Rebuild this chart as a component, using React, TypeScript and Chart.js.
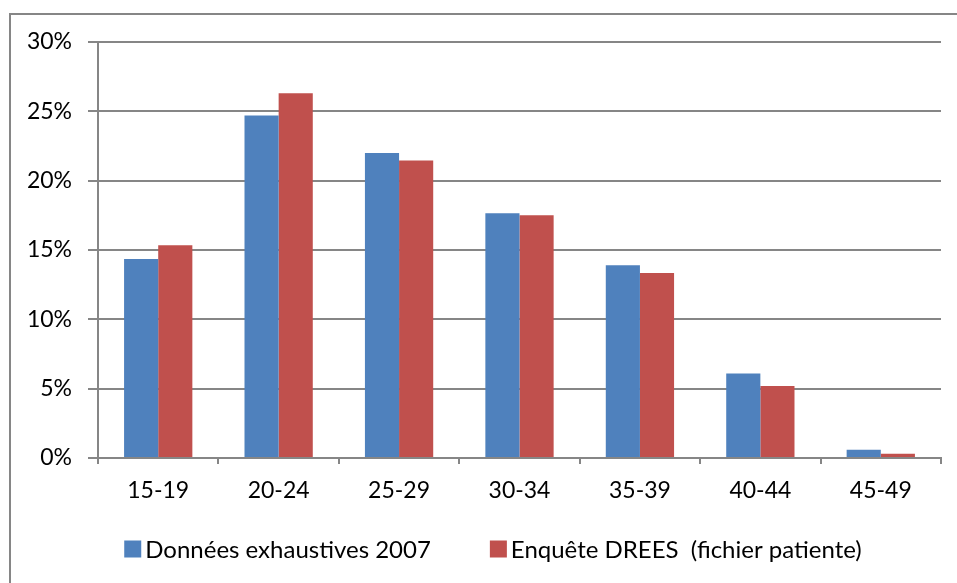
import React, { useEffect, useRef } from "react";
import { Chart, registerables } from "chart.js";

Chart.register(...registerables);

const categories = ["15-19", "20-24", "25-29", "30-34", "35-39", "40-44", "45-49"];
const seriesNames = ["Données exhaustives 2007", "Enquête DREES  (fichier patiente)"];
const exhaustive2007 = [14.35, 24.7, 22.0, 17.65, 13.9, 6.1, 0.6];
const dreesSurvey = [15.35, 26.3, 21.45, 17.5, 13.35, 5.2, 0.3];
const seriesColors = ["#4F81BD", "#C0504D"];

const FONT = "Lato, 'Open Sans', sans-serif";
const GRID = "#868686";

const framePlugin = {
  id: "frame",
  beforeDraw(chart: any) {
    const ctx = chart.ctx;
    ctx.save();
    ctx.fillStyle = "#ffffff";
    ctx.fillRect(0, 0, chart.width, chart.height);
    ctx.strokeStyle = GRID;
    ctx.lineWidth = 2;
    ctx.beginPath();
    ctx.moveTo(10, chart.height + 5);
    ctx.lineTo(10, 14);
    ctx.lineTo(chart.width + 5, 14);
    ctx.stroke();
    ctx.restore();
  },
};

const legendPlugin = {
  id: "customLegend",
  afterDraw(chart: any) {
    const ctx = chart.ctx;
    ctx.save();
    ctx.font = `24px ${FONT}`;
    ctx.textBaseline = "middle";
    const box = 17;
    const gapText = 4;
    const gapItems = 59;
    const items = chart.data.datasets.map((d: any) => ({
      label: d.label,
      color: d.backgroundColor,
      w: box + gapText + ctx.measureText(d.label).width,
    }));
    const total = items.reduce((s: number, it: any) => s + it.w, 0) + gapItems * (items.length - 1);
    let x = 493 - total / 2;
    const y = 549;
    items.forEach((it: any) => {
      ctx.fillStyle = it.color;
      ctx.fillRect(x, y - box / 2, box, box);
      ctx.fillStyle = "#000000";
      ctx.fillText(it.label, x + box + gapText, y + 1);
      x += it.w + gapItems;
    });
    ctx.restore();
  },
};

export default function App() {
  const ref = useRef<HTMLCanvasElement | null>(null);

  useEffect(() => {
    document.body.style.margin = "0";
    if (!ref.current) return;
    const chart = new Chart(ref.current, {
      type: "bar",
      data: {
        labels: categories,
        datasets: [
          { label: seriesNames[0], data: exhaustive2007, backgroundColor: seriesColors[0] },
          { label: seriesNames[1], data: dreesSurvey, backgroundColor: seriesColors[1] },
        ],
      },
      options: {
        animation: false,
        responsive: false,
        maintainAspectRatio: false,
        layout: { padding: { left: 10, top: 42, right: 16, bottom: 85 } },
        datasets: { bar: { barPercentage: 1, categoryPercentage: 0.567 } },
        plugins: {
          legend: { display: false },
          tooltip: { enabled: false },
        },
        scales: {
          x: {
            afterFit(scale: any) {
              scale.height = 40;
            },
            grid: {
              drawOnChartArea: false,
              drawTicks: true,
              tickLength: 6,
              color: GRID,
              lineWidth: 2,
              offset: true,
            },
            border: { color: GRID, width: 2 },
            ticks: {
              color: "#000000",
              font: { family: FONT, size: 23 },
              padding: 13,
              maxRotation: 0,
            },
          },
          y: {
            min: 0,
            max: 30,
            afterFit(scale: any) {
              scale.width = 88;
            },
            grid: {
              color: GRID,
              lineWidth: 2,
              tickLength: 10,
              drawTicks: true,
            },
            border: { color: GRID, width: 2 },
            ticks: {
              stepSize: 5,
              color: "#000000",
              font: { family: FONT, size: 23 },
              padding: 16,
              callback: (v: any) => `${v}%`,
            },
          },
        },
      },
      plugins: [framePlugin, legendPlugin],
    });
    return () => chart.destroy();
  }, []);

  return (
    <div style={{ width: 957, height: 583 }}>
      <canvas ref={ref} width={957} height={583} style={{ display: "block" }} />
    </div>
  );
}
